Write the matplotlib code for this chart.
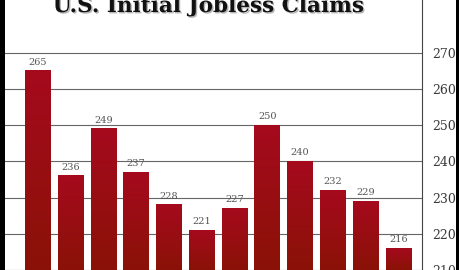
import numpy as np
import matplotlib.pyplot as plt
from matplotlib.patches import Rectangle
from matplotlib.colors import LinearSegmentedColormap
import matplotlib.patheffects as pe

claims = [265, 236, 249, 237, 228, 221, 227, 250, 240, 232, 229, 216]
yticks = [210, 220, 230, 240, 250, 260, 270]
title = "U.S. Initial Jobless Claims"

W, H = 460, 270
fig = plt.figure(figsize=(W / 100, H / 100), dpi=100)
fig.patch.set_facecolor('black')
# white panel inside the black frame
fig.patches.append(Rectangle((5 / W, 0), (456 - 5) / W, 1, transform=fig.transFigure,
                             facecolor='white', edgecolor='none', zorder=-5))

ax = fig.add_axes([5 / W, 0, (422 - 5) / W, 1])
ax.set_zorder(2)
ax.set_facecolor('white')

# vertical gradient inside every bar, dark at the bottom
grad = LinearSegmentedColormap.from_list('bar', ['#8a1207', '#a50a1d'])
g = np.linspace(0, 1, 256).reshape(-1, 1)
bw = 0.78
x = np.arange(len(claims))
for xi, v in zip(x, claims):
    ax.imshow(g, cmap=grad, origin='lower', aspect='auto', zorder=2,
              extent=(xi - bw / 2, xi + bw / 2, 210, v), interpolation='bicubic')
    ax.text(xi, v + 1.2, str(v), ha='center', va='bottom', fontsize=7,
            family='DejaVu Serif', color='#555555', zorder=3)

ax.set_xlim(-1.0, 11.72)
ax.set_ylim(210, 284.6)
ax.set_yticks(yticks)
ax.yaxis.tick_right()
ax.tick_params(axis='y', length=0, pad=7, labelsize=9, labelcolor='#3a3a3a')
for lab in ax.get_yticklabels():
    lab.set_family('DejaVu Serif')
ax.set_xticks([])
ax.grid(axis='y', color='#666666', lw=0.8, zorder=1)
for s in ['top', 'left', 'bottom']:
    ax.spines[s].set_visible(False)
ax.spines['right'].set_color('#444444')
ax.spines['right'].set_linewidth(0.8)

fig.text(208 / W, 1 - 12 / H, title, ha='center', va='baseline', fontsize=15.5,
         fontweight='bold', family='DejaVu Serif', color='#111111', zorder=5,
         path_effects=[pe.withSimplePatchShadow(offset=(1, -1), alpha=0.3)])

fig.savefig('out.png', dpi=100, facecolor=fig.get_facecolor())
